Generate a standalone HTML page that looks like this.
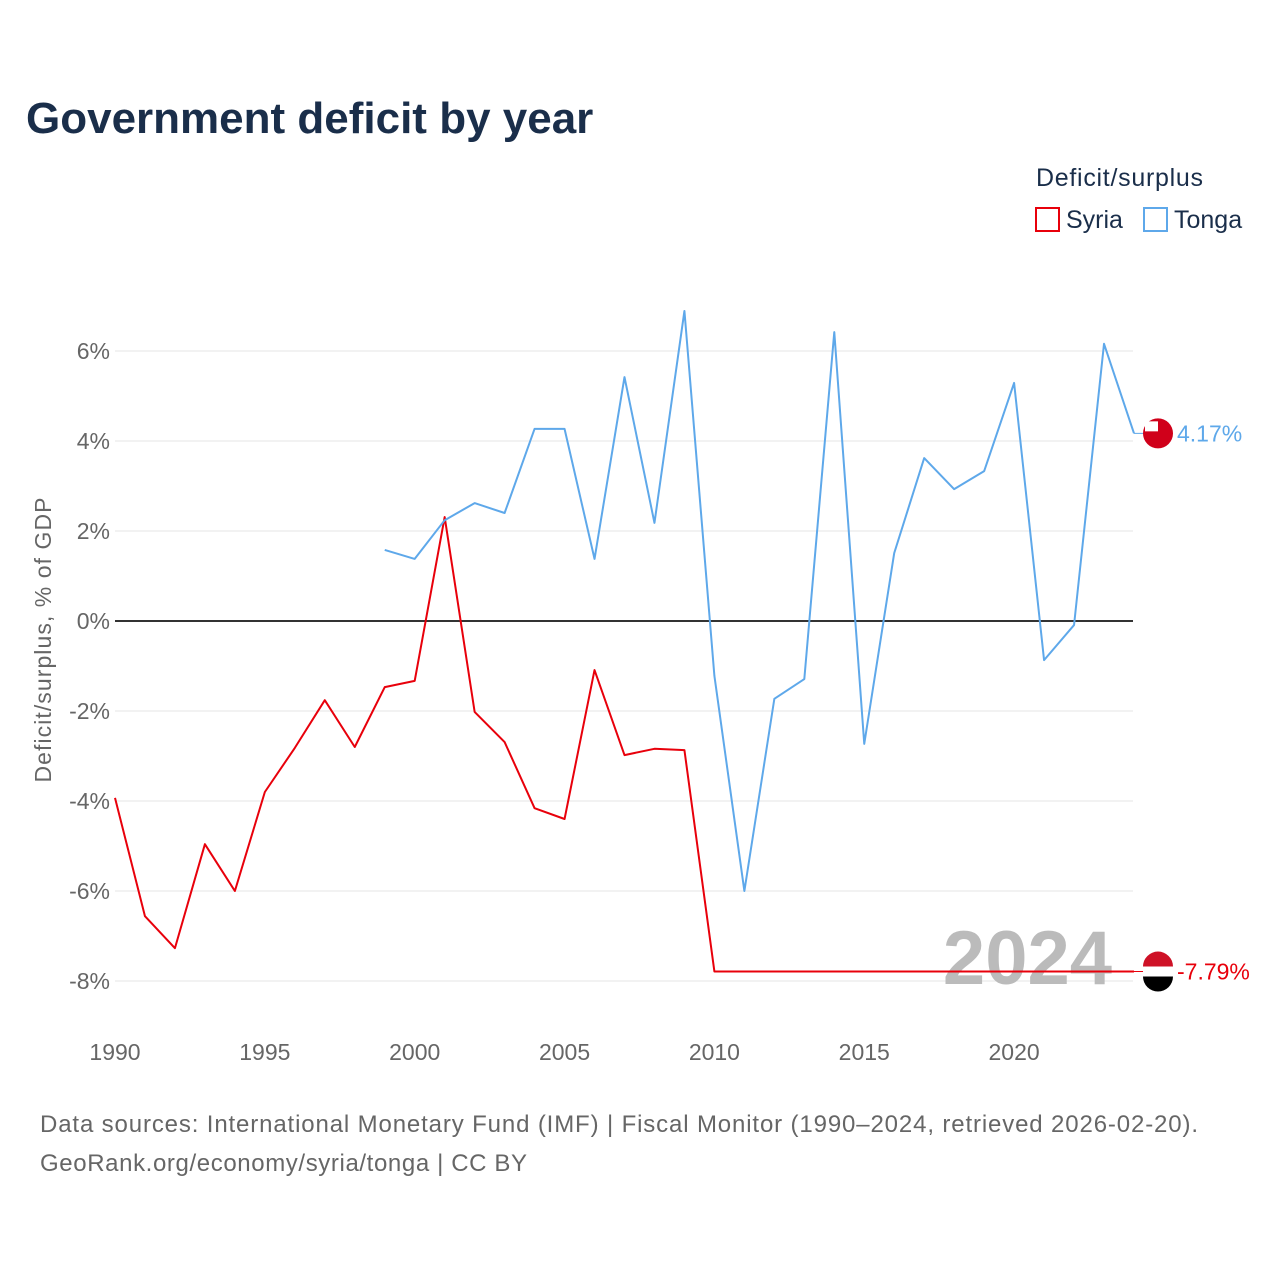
<!DOCTYPE html>
<html><head><meta charset="utf-8"><style>
body{margin:0;background:#fff;font-family:"Liberation Sans",sans-serif;}
svg text{font-family:"Liberation Sans",sans-serif;}
</style></head><body>
<svg id="chart" width="1280" height="1280" viewBox="0 0 1280 1280" xmlns="http://www.w3.org/2000/svg">
<rect width="1280" height="1280" fill="#fff"/>
<text x="26" y="133" font-size="44" font-weight="bold" fill="#1a2e4a">Government deficit by year</text>
<text x="1036" y="186" font-size="25" fill="#1a2e4a" textLength="167">Deficit/surplus</text>
<rect x="1036" y="208" width="23" height="23" fill="none" stroke="#e8000b" stroke-width="2"/>
<text x="1066" y="228" font-size="25" fill="#1a2e4a">Syria</text>
<rect x="1144" y="208" width="23" height="23" fill="none" stroke="#5ea8ea" stroke-width="2"/>
<text x="1174" y="228" font-size="25" fill="#1a2e4a">Tonga</text>
<text transform="translate(51,640) rotate(-90)" text-anchor="middle" font-size="23" fill="#666" textLength="285">Deficit/surplus, % of GDP</text>
<g id="grid"></g><g id="axes"></g>
<text x="1112" y="984" text-anchor="end" font-size="76" font-weight="bold" fill="#bbb">2024</text>
<g id="series"></g>
<text x="40" y="1132" font-size="24" fill="#666" textLength="1158">Data sources: International Monetary Fund (IMF) | Fiscal Monitor (1990–2024, retrieved 2026-02-20).</text>
<text x="40" y="1171" font-size="24" fill="#666" textLength="487">GeoRank.org/economy/syria/tonga | CC BY</text>
</svg>
<script>
const yTicks=[6,4,2,0,-2,-4,-6,-8];
const xTicks=[1990,1995,2000,2005,2010,2015,2020];
const syriaYears=[1990,1991,1992,1993,1994,1995,1996,1997,1998,1999,2000,2001,2002,2003,2004,2005,2006,2007,2008,2009,2010,2011,2012,2013,2014,2015,2016,2017,2018,2019,2020,2021,2022,2023,2024];
const syriaValues=[-3.93,-6.56,-7.27,-4.96,-6.0,-3.8,-2.82,-1.76,-2.8,-1.47,-1.33,2.31,-2.02,-2.69,-4.16,-4.4,-1.09,-2.98,-2.84,-2.87,-7.79,-7.79,-7.79,-7.79,-7.79,-7.79,-7.79,-7.79,-7.79,-7.79,-7.79,-7.79,-7.79,-7.79,-7.79];
const tongaYears=[1999,2000,2001,2002,2003,2004,2005,2006,2007,2008,2009,2010,2011,2012,2013,2014,2015,2016,2017,2018,2019,2020,2021,2022,2023,2024];
const tongaValues=[1.58,1.38,2.24,2.62,2.4,4.27,4.27,1.38,5.42,2.18,6.89,-1.22,-6.0,-1.73,-1.29,6.42,-2.73,1.51,3.62,2.93,3.33,5.29,-0.87,-0.09,6.16,4.17];
const NS='http://www.w3.org/2000/svg';
const X=y=>115+(y-1990)*29.97;
const Y=v=>621-v*45;
function mk(t,a,p){const e=document.createElementNS(NS,t);for(const k in a)e.setAttribute(k,a[k]);p.appendChild(e);return e;}
const grid=document.getElementById('grid'),axes=document.getElementById('axes'),ser=document.getElementById('series');
yTicks.forEach(v=>{
 const l=mk('line',{x1:115,x2:1133,y1:Y(v),y2:Y(v),stroke:v===0?'#333':'#e6e6e6','stroke-width':v===0?2:1},grid);
 
 
 const t=mk('text',{x:110,y:Y(v)+8,'text-anchor':'end','font-size':23,fill:'#666'},axes);
 t.textContent=v+'%';
 
 
});
xTicks.forEach(y=>{
 const t=mk('text',{x:X(y),y:1060,'text-anchor':'middle','font-size':23,fill:'#666'},axes);
 t.textContent=y;
 
 
});
function line(years,vals,color,name){
 const p=mk('polyline',{points:years.map((y,i)=>X(y)+','+Y(vals[i])).join(' '),fill:'none',stroke:color,'stroke-width':2,'stroke-linejoin':'round'},ser);
 
 
 const lv=vals[vals.length-1],ly=Y(lv),lx=X(years[years.length-1]);
 const c=mk('line',{x1:lx,x2:1150,y1:ly,y2:ly,stroke:color,'stroke-width':1},ser);
 
 
 const f=mk('circle',{cx:1158,cy:ly,r:15,fill:color==='#e8000b'?'#fff':'#d0001a'},ser);
 
 
 if(color==='#e8000b'){
  const a=mk('path',{d:`M1143 ${ly-5} A15 15 0 0 1 1173 ${ly-5} Z`,fill:'#ce1126'},ser);
  
  
  const b=mk('path',{d:`M1143 ${ly+5} A15 15 0 0 0 1173 ${ly+5} Z`,fill:'#000'},ser);
  
  
 } else {
  const r=mk('rect',{x:1145,y:ly-12,width:13,height:10,fill:'#fff'},ser);
  
  
 }
 const t=mk('text',{x:1177,y:ly+8,'font-size':23,fill:color},ser);
 t.textContent=lv.toFixed(2)+'%';
 
 
}
line(syriaYears,syriaValues,'#e8000b','syria-line');
line(tongaYears,tongaValues,'#5ea8ea','tonga-line');
</script>
</body></html>
